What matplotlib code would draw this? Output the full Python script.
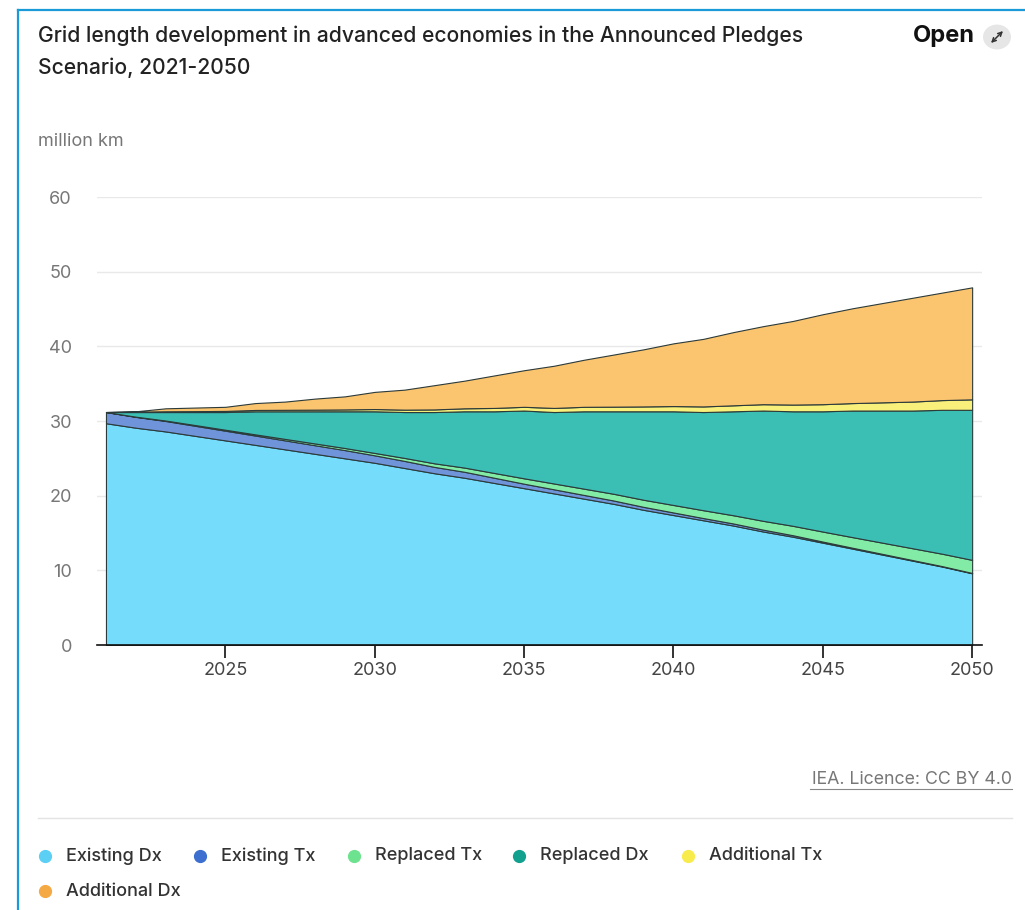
import numpy as np
import matplotlib
matplotlib.use("Agg")
import matplotlib.pyplot as plt
from matplotlib.lines import Line2D
from matplotlib.patches import Circle, FancyArrowPatch

plt.rcParams['font.family'] = ['Inter', 'DejaVu Sans']

# Data (million km)
years = list(range(2021, 2051))
existing_dx = [29.7, 29.1, 28.6, 28.0, 27.4, 26.8, 26.2, 25.6, 25.0, 24.4,
               23.7, 23.0, 22.4, 21.7, 21.0, 20.3, 19.6, 18.9, 18.1, 17.4,
               16.7, 16.0, 15.2, 14.5, 13.7, 12.9, 12.1, 11.3, 10.5, 9.6]
existing_tx = [1.5, 1.45, 1.4, 1.35, 1.3, 1.25, 1.2, 1.15, 1.1, 1.0,
               0.95, 0.85, 0.8, 0.7, 0.6, 0.55, 0.5, 0.45, 0.4, 0.35,
               0.3, 0.28, 0.25, 0.2, 0.15, 0.12, 0.1, 0.08, 0.06, 0.05]
replaced_tx = [0.0, 0.03, 0.06, 0.1, 0.13, 0.16, 0.2, 0.24, 0.28, 0.32,
               0.4, 0.48, 0.56, 0.64, 0.72, 0.78, 0.84, 0.9, 0.95, 1.0,
               1.05, 1.1, 1.18, 1.26, 1.34, 1.42, 1.5, 1.58, 1.66, 1.75]
replaced_dx = [0.0, 0.62, 1.14, 1.75, 2.37, 3.09, 3.7, 4.31, 4.92, 5.58,
               6.15, 6.87, 7.54, 8.26, 9.08, 9.57, 10.36, 11.05, 11.85, 12.55,
               13.15, 13.92, 14.77, 15.34, 16.11, 16.96, 17.7, 18.44, 19.28, 20.1]
additional_tx = [0.0, 0.05, 0.1, 0.12, 0.15, 0.18, 0.2, 0.22, 0.25, 0.3,
                 0.32, 0.35, 0.4, 0.45, 0.5, 0.55, 0.6, 0.62, 0.65, 0.7,
                 0.75, 0.8, 0.85, 0.9, 0.95, 1.0, 1.1, 1.2, 1.3, 1.4]
additional_dx = [0.0, 0.05, 0.4, 0.48, 0.55, 0.92, 1.1, 1.48, 1.75, 2.3,
                 2.68, 3.25, 3.7, 4.35, 4.9, 5.65, 6.3, 6.98, 7.65, 8.4,
                 9.05, 9.8, 10.45, 11.2, 12.05, 12.7, 13.3, 13.9, 14.4, 15.0]

labels = ["Existing Dx", "Existing Tx", "Replaced Tx", "Replaced Dx",
          "Additional Tx", "Additional Dx"]
fill_colors = ["#75DCFC", "#6F94DA", "#82EBA5", "#3BBEB4", "#F8F07A", "#FBC46E"]
dot_colors = ["#5CCFF5", "#3D6FD0", "#6EE38F", "#12A08F", "#F8EB4C", "#F5A945"]

W, H = 1025, 910
fig = plt.figure(figsize=(W / 100, H / 100), dpi=100)

# card border
fig.add_artist(Line2D([18 / W, 18 / W], [0, 1 - 10 / H], color="#1A9AD6", lw=1.6))
fig.add_artist(Line2D([18 / W, 1], [1 - 10 / H, 1 - 10 / H], color="#1A9AD6", lw=1.6))

ax = fig.add_axes([97 / W, 1 - 645 / H, 885 / W, 448 / H])
series = [existing_dx, existing_tx, replaced_tx, replaced_dx, additional_tx, additional_dx]
ax.stackplot(years, *series, colors=fill_colors, edgecolor="#2B3A3A", linewidth=0.8)

ax.set_xlim(2020.7, 2050.33)
ax.set_ylim(0, 60)
ax.set_yticks([0, 10, 20, 30, 40, 50, 60])
ax.set_xticks([2025, 2030, 2035, 2040, 2045, 2050])
ax.grid(axis='y', color="#E9E9E9", linewidth=1)
ax.set_axisbelow(True)
for s in ['left', 'right', 'top']:
    ax.spines[s].set_visible(False)
ax.spines['bottom'].set_color("#111111")
ax.spines['bottom'].set_linewidth(1.2)
ax.tick_params(axis='x', length=9, width=1.2, color="#111111", labelsize=13,
               labelcolor="#444444", pad=3)
ax.tick_params(axis='y', length=0, labelsize=13, labelcolor="#777777", pad=18)

# texts
fig.text(38 / W, 1 - 36 / H, "Grid length development in advanced economies in the Announced Pledges",
         fontsize=15.2, fontweight='medium', color="#222222", va='center', ha='left')
fig.text(38 / W, 1 - 68 / H, "Scenario, 2021-2050",
         fontsize=15.2, fontweight='medium', color="#222222", va='center', ha='left')
fig.text(975 / W, 1 - 36 / H, "Open", fontsize=17, fontweight='bold', color="#111111",
         va='center', ha='right')
fig.add_artist(Circle((997 / W, 1 - 37 / H), 14 / W, transform=fig.transFigure,
                      facecolor="#E6E6E6", edgecolor='none'))
fig.add_artist(FancyArrowPatch((991 / W, 1 - 43 / H), (1003 / W, 1 - 31 / H),
                               transform=fig.transFigure, arrowstyle='<->',
                               mutation_scale=7, color="#333333", lw=1.1,
                               shrinkA=0, shrinkB=0))
fig.text(38 / W, 1 - 142 / H, "million km", fontsize=13, color="#777777", va='center', ha='left')

fig.text(1012 / W, 1 - 780 / H, "IEA. Licence: CC BY 4.0", fontsize=12.8, color="#777777",
         va='center', ha='right')
fig.add_artist(Line2D([810 / W, 1012 / W], [1 - 789 / H, 1 - 789 / H], color="#888888", lw=0.8))
fig.add_artist(Line2D([38 / W, 1012 / W], [1 - 818 / H, 1 - 818 / H], color="#E3E3E3", lw=1))

# legend
leg_pos = [(45, 856), (200, 856), (354, 856), (519, 856), (688, 856), (45, 891)]
for (lx, ly), lab, c in zip(leg_pos, labels, dot_colors):
    fig.add_artist(Line2D([lx / W], [1 - ly / H], marker='o', markersize=8.5,
                          color=c, linestyle='none'))
    fig.text((lx + 21) / W, 1 - ly / H, lab, fontsize=13, fontweight='medium',
             color="#333333", va='center', ha='left')

fig.savefig("out.png", dpi=100)
